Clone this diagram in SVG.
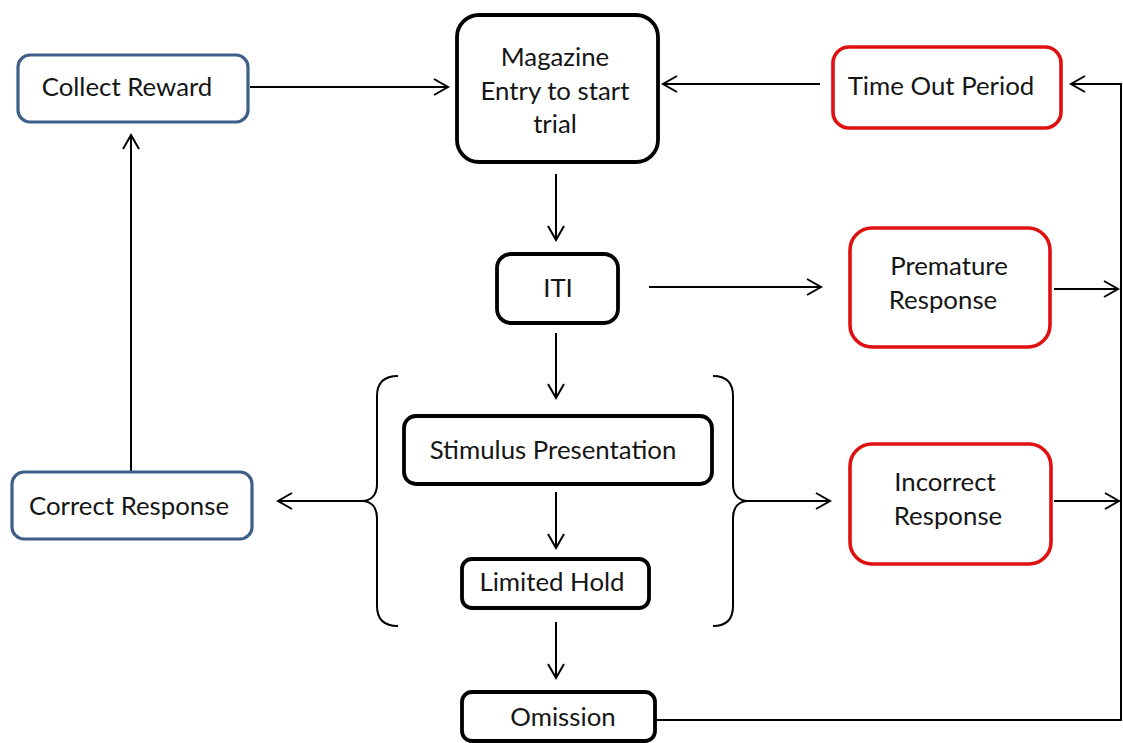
<svg xmlns="http://www.w3.org/2000/svg" width="1123" height="743" viewBox="0 0 1123 743">
<style>
.box{fill:#fff;stroke-linejoin:round}
.blk{stroke:#000;stroke-width:3.8}
.red{stroke:#e01010;stroke-width:3.6}
.blu{stroke:#3f5f88;stroke-width:3.2}
.t{font-family:Lato,"Liberation Sans",sans-serif;font-size:25.8px;fill:#151515;text-anchor:middle}
.c{fill:none;stroke:#000;stroke-width:2}
.br{fill:none;stroke:#000;stroke-width:2}
</style>
<defs>
<marker id="ah" markerUnits="userSpaceOnUse" viewBox="0 0 16 18" refX="15" refY="9" markerWidth="16" markerHeight="18" orient="auto" overflow="visible">
<path d="M1,1 L15,9 L1,17" fill="none" stroke="#000" stroke-width="2"/>
</marker>
</defs>
<rect width="1123" height="743" fill="#fff"/>
<g id="connectors">
<path class="c" d="M250,87 L448,87" marker-end="url(#ah)"/>
<path class="c" d="M820,84 L663,84" marker-end="url(#ah)"/>
<path class="c" d="M655,720 L1121,720 L1121,84 L1071,84" marker-end="url(#ah)"/>
<path class="c" d="M556,174 L556,240" marker-end="url(#ah)"/>
<path class="c" d="M649,287 L821,287" marker-end="url(#ah)"/>
<path class="c" d="M1054,289 L1118,289" marker-end="url(#ah)"/>
<path class="c" d="M556,333 L556,398" marker-end="url(#ah)"/>
<path class="c" d="M556,492 L556,548" marker-end="url(#ah)"/>
<path class="c" d="M556,622 L556,678" marker-end="url(#ah)"/>
<path class="c" d="M362,501 L278,501" marker-end="url(#ah)"/>
<path class="c" d="M748,501 L830,501" marker-end="url(#ah)"/>
<path class="c" d="M1054,501 L1119,501" marker-end="url(#ah)"/>
<path class="c" d="M131,472 L131,135" marker-end="url(#ah)"/>
</g>
<g id="braces">
<path class="br" d="M398,376 C385,376 377,382 377,396 L377,484 C377,495 371,501 362,501 C371,501 377,507 377,518 L377,606 C377,620 385,626 398,626"/>
<path class="br" d="M713,376 C726,376 733,382 733,396 L733,484 C733,495 739,501 748,501 C739,501 733,507 733,518 L733,606 C733,620 726,626 713,626"/>
</g>
<g id="collect-reward">
<rect class="box blu" x="18" y="55" width="230" height="67" rx="12"/>
<text class="t" x="127" y="96">Collect Reward</text>
</g>
<g id="magazine">
<rect class="box blk" x="457" y="15" width="201" height="147" rx="22"/>
<text class="t" x="555" y="66">Magazine</text>
<text class="t" x="555" y="100">Entry to start</text>
<text class="t" x="555" y="133">trial</text>
</g>
<g id="time-out">
<rect class="box red" x="833" y="47" width="228" height="81" rx="16"/>
<text class="t" x="941" y="95">Time Out Period</text>
</g>
<g id="iti">
<rect class="box blk" x="497" y="254" width="121" height="69" rx="14"/>
<text class="t" x="558" y="297">ITI</text>
</g>
<g id="premature">
<rect class="box red" x="850" y="228" width="200" height="119" rx="22"/>
<text class="t" x="949" y="275">Premature</text>
<text class="t" x="943" y="309">Response</text>
</g>
<g id="stimulus">
<rect class="box blk" x="404" y="416" width="308" height="68" rx="12"/>
<text class="t" x="553" y="459">Stimulus Presentation</text>
</g>
<g id="limited-hold">
<rect class="box blk" x="462" y="559" width="187" height="49" rx="10"/>
<text class="t" x="552" y="591">Limited Hold</text>
</g>
<g id="omission">
<rect class="box blk" x="462" y="692" width="193" height="49" rx="10"/>
<text class="t" x="563" y="726">Omission</text>
</g>
<g id="correct">
<rect class="box blu" x="12" y="472" width="240" height="67" rx="12"/>
<text class="t" x="129" y="515">Correct Response</text>
</g>
<g id="incorrect">
<rect class="box red" x="850" y="444" width="201" height="120" rx="22"/>
<text class="t" x="945" y="491">Incorrect</text>
<text class="t" x="948" y="525">Response</text>
</g>
</svg>
